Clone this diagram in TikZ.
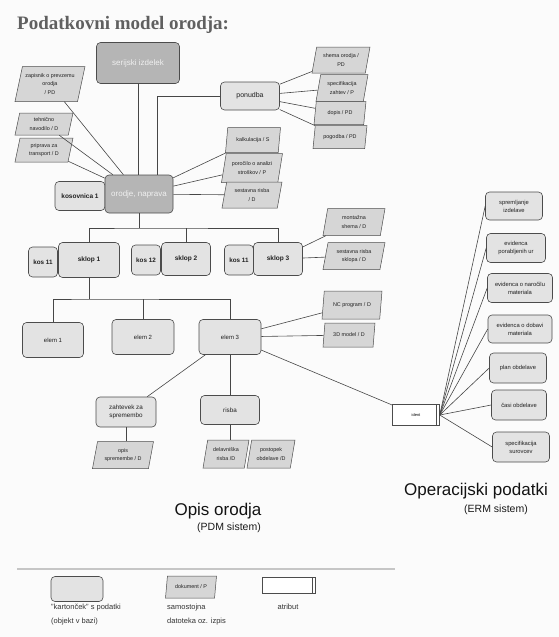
\documentclass[tikz,border=0pt]{standalone}
\usepackage{fontspec}
\setmainfont{Liberation Sans}
\newfontfamily\titlefont{Liberation Serif}
\usepackage{tikz}
\usetikzlibrary{shapes.geometric, positioning}

\begin{document}
\begin{tikzpicture}[
      x=1pt, y=-1pt,
      ln/.style={draw=gray!55!black, line width=0.6pt},
      card/.style={draw=gray!60!black, fill=gray!22, rounded corners=4pt, line width=0.6pt, align=center, inner sep=1pt, text=gray!25!black, font=\fontsize{6.5}{8}\selectfont},
      darkcard/.style={card, fill=gray!58, text=gray!12, font=\fontsize{8}{10}\selectfont},
      kos/.style={card, font=\bfseries\fontsize{6.3}{8}\selectfont, minimum width=29pt, minimum height=30pt},
      sklop/.style={card, font=\bfseries\fontsize{6.5}{8}\selectfont, minimum height=33pt},
      elem/.style={card, minimum width=61pt, minimum height=35pt, font=\fontsize{6}{8}\selectfont},
      erm/.style={card, minimum width=57pt, minimum height=28pt, font=\fontsize{5.8}{8}\selectfont},
      doc/.style={trapezium, trapezium left angle=72, trapezium right angle=108, trapezium stretches body, draw=gray!60!black, fill=gray!32, line width=0.5pt, align=center, inner xsep=0pt, inner ysep=1pt, minimum width=58pt, minimum height=26pt, text=gray!25!black, font=\fontsize{5.4}{8.5}\selectfont},
      attr/.style={draw=gray!60!black, fill=white, line width=0.5pt, minimum width=47pt, minimum height=21pt, inner sep=1pt, font=\fontsize{4}{5}\selectfont,
        path picture={\draw[gray!60!black, line width=0.5pt] ([xshift=-3.5pt]path picture bounding box.north east) -- ([xshift=-3.5pt]path picture bounding box.south east);}},
      big/.style={font=\fontsize{17}{20}\selectfont, text=gray!15!black, inner sep=0pt},
      sub/.style={font=\fontsize{10.5}{12}\selectfont, text=gray!20!black, inner sep=0pt},
      leg/.style={font=\fontsize{7.5}{13.5}\selectfont, text=gray!40!black, align=left, inner sep=0pt}
    ]

    \fill[gray!3] (0,0) rectangle (559,637);
    \useasboundingbox (0,0) rectangle (559,637);

    \node[anchor=base west, inner sep=0pt, text=gray!75!black, font=\titlefont\bfseries\fontsize{19}{22}\selectfont] (title) at (17,29) {Podatkovni model orodja:};

    % ---- orodje in njegovi dokumenti ----
    \node[darkcard, minimum width=83pt, minimum height=41pt] (serijski) at (138,63) {serijski izdelek};
    \node[card, font=\bfseries\fontsize{6.5}{8}\selectfont, minimum width=50pt, minimum height=29pt] (kosovnica) at (80,196) {kosovnica 1};
    \node[darkcard, minimum width=68pt, minimum height=38pt] (orodje) at (139,194) {orodje, naprava};
    \node[card, minimum width=59pt, minimum height=28pt, font=\fontsize{7}{8}\selectfont] (ponudba) at (250,96) {ponudba};

    \node[doc, minimum width=70pt, minimum height=35pt] (zapisnik) at (50,84) {zapisnik o prevzemu\\orodja\\/ PD};
    \node[doc, minimum height=22pt] (tehnicno) at (44,124) {tehnično\\navodilo / D};
    \node[doc, minimum height=24pt] (priprava) at (44,150) {priprava za\\transport / D};

    \node[doc] (shema) at (341,60) {shema orodja /\\PD};
    \node[doc, minimum width=52pt, minimum height=27pt] (specz) at (342,88) {specifikacija\\zahtev / P};
    \node[doc, minimum width=52pt, minimum height=23pt] (dopis) at (340,113) {dopis / PD};
    \node[doc, minimum width=54pt, minimum height=23pt] (pogodba) at (340,137) {pogodba / PD};

    \node[doc, minimum width=55pt, minimum height=25pt] (kalk) at (253,140) {kalkulacija / S};
    \node[doc, minimum width=61pt, minimum height=29pt] (porocilo) at (252,168) {poročilo o analizi\\stroškov / P};
    \node[doc, minimum width=60pt] (sestavna) at (252,195) {sestavna risba\\/ D};

    \draw[ln] (serijski.south) -- (serijski.south |- orodje.north);
    \foreach \d in {zapisnik, tehnicno, priprava, kalk, porocilo, sestavna}
      \draw[ln] (\d) -- (orodje);
    \draw[ln] ([xshift=18pt]orodje.north) |- (ponudba.west);
    \foreach \d in {shema, specz, dopis, pogodba}
      \draw[ln] (ponudba) -- (\d);

    % ---- sklopi ----
    \node[kos] (kosA) at (43,262) {kos 11};
    \node[sklop, minimum width=61pt, minimum height=35pt] (sklopA) at (89,260) {sklop 1};
    \node[kos] (kosB) at (146,260) {kos 12};
    \node[sklop, minimum width=49pt] (sklopB) at (186,259) {sklop 2};
    \node[kos] (kosC) at (239,260) {kos 11};
    \node[sklop, minimum width=49pt] (sklopC) at (278,259) {sklop 3};

    \node[doc, minimum width=62pt, minimum height=27pt] (montazna) at (354,222) {montažna\\shema / D};
    \node[doc, minimum width=62pt, minimum height=27pt] (sestsklop) at (354,256) {sestavna risba\\sklopa / D};

    \coordinate (busA) at (139,228);
    \draw[ln] (orodje.south) -- (busA);
    \draw[ln] (sklopA.north) |- (busA) -| (sklopC.north);
    \draw[ln] (sklopB.north) -- (sklopB.north |- busA);
    \draw[ln] (sklopC) -- (montazna);
    \draw[ln] (sklopC) -- (sestsklop);

    % ---- elementi ----
    \node[elem] (elemA) at (53,340) {elem 1};
    \node[elem, minimum width=62pt] (elemB) at (143,337) {elem 2};
    \node[elem, minimum width=62pt] (elemC) at (230,337) {elem 3};

    \node[doc, minimum width=60pt, minimum height=28pt] (ncprog) at (352,305) {NC program / D};
    \node[doc, minimum width=52pt, minimum height=24pt] (model3d) at (349,335) {3D model / D};

    \node[card, minimum width=60pt, minimum height=30pt, font=\fontsize{6.3}{8}\selectfont] (zahtevek) at (126,412) {zahtevek za\\spremembo};
    \node[card, minimum width=59pt, minimum height=29pt, font=\fontsize{6.3}{8}\selectfont] (risba) at (230,410) {risba};
    \node[doc, minimum width=61pt, minimum height=27pt] (opis) at (123,455) {opis\\spremembe / D};
    \node[doc, minimum width=46pt, minimum height=28pt] (delavn) at (226,454) {delavniška\\risba /D};
    \node[doc, minimum width=48pt, minimum height=28pt] (postopek) at (271,454) {postopek\\obdelave /D};

    \coordinate (busB) at (89,299);
    \draw[ln] (sklopA.south) -- (busB);
    \draw[ln] (elemA.north) |- (busB) -| (elemC.north);
    \draw[ln] (elemB.north) -- (elemB.north |- busB);
    \foreach \d in {ncprog, model3d, zahtevek}
      \draw[ln] (elemC) -- (\d);
    \draw[ln] (elemC.south) -- (risba.north);
    \draw[ln] (zahtevek.south) -- (zahtevek.south |- opis.north);
    \draw[ln] (risba.south) -- (risba.south |- delavn.north);

    % ---- operacijski podatki ----
    \node[attr] (ident) at (416,415) {ident};
    \node[erm] (erm1) at (514,206) {spremljanje\\izdelave};
    \node[erm, minimum width=59pt, minimum height=29pt] (erm2) at (516,248) {evidenca\\porabljenih ur};
    \node[erm, minimum width=65pt, minimum height=29pt] (erm3) at (520,288) {evidenca o naročilu\\materiala};
    \node[erm, minimum width=64pt] (erm4) at (520,329) {evidenca o dobavi\\materiala};
    \node[erm, minimum height=30pt] (erm5) at (518,368) {plan obdelave};
    \node[erm, minimum width=55pt, minimum height=30pt] (erm6) at (519,405) {časi obdelave};
    \node[erm, minimum height=30pt] (erm7) at (521,447) {specifikacija\\surovcev};

    \draw[ln] (elemC) -- (ident);
    \foreach \i in {1,...,7}
      \draw[ln] (ident.east) -- (erm\i.west);

    % ---- napisi sistemov ----
    \node[big] (opisorodja) at (218,511) {Opis orodja};
    \node[sub] (pdm) at (229,528) {(PDM sistem)};
    \node[big] (operacijski) at (476,491) {Operacijski podatki};
    \node[sub] (erm) at (496,510) {(ERM sistem)};

    % ---- legenda ----
    \coordinate (lineL) at (17,569);
    \coordinate (lineR) at (395,569);
    \draw[gray!45, line width=1.3pt] (lineL) -- (lineR);

    \node[card, minimum width=52pt, minimum height=25pt] (legcard) at (77,589) {};
    \node[doc, minimum width=51pt, minimum height=22pt] (legdoc) at (191,587) {dokument / P};
    \node[attr, minimum width=53pt, minimum height=16pt] (legattr) at (289,585) {};

    \node[leg, anchor=north west] (legcardtxt) at (51,604) {"kartonček" s podatki\\(objekt v bazi)};
    \node[leg, anchor=north west] (legdoctxt) at (167,604) {samostojna\\datoteka oz. izpis};
    \node[leg, anchor=north] (legattrtxt) at (288,604) {atribut};

    \end{tikzpicture}
\end{document}
